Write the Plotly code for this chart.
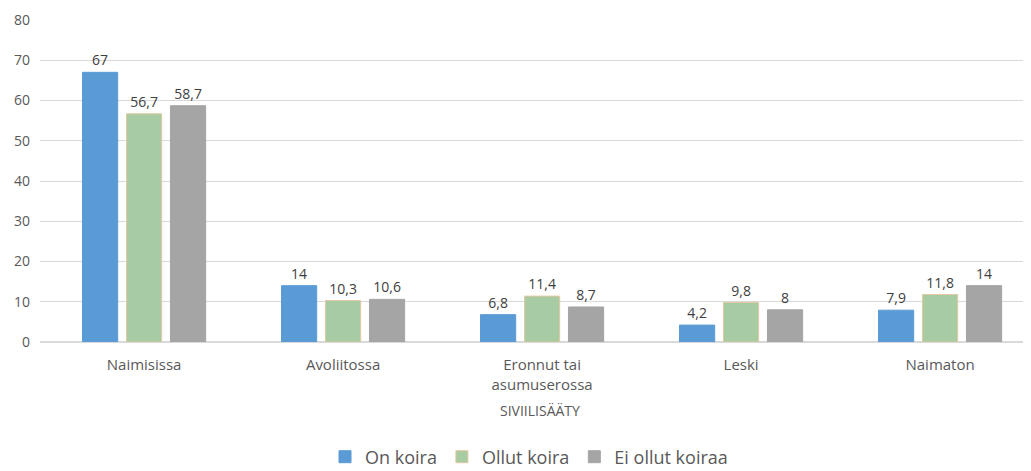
import plotly.graph_objects as go

categories = ["Naimisissa", "Avoliitossa", "Eronnut tai<br>asumuserossa", "Leski", "Naimaton"]
on_koira = [67, 14, 6.8, 4.2, 7.9]
ollut_koira = [56.7, 10.3, 11.4, 9.8, 11.8]
ei_ollut = [58.7, 10.6, 8.7, 8, 14]
series_names = ["On koira", "Ollut koira", "Ei ollut koiraa"]
colors = ["#5B9BD5", "#A7CBA2", "#A5A5A5"]
line_colors = ["#5B9BD5", "#E2C9A0", "#A5A5A5"]

def fmt(v):
    return ("%g" % v).replace(".", ",")

fig = go.Figure()
for name, vals, c, lc in zip(series_names, [on_koira, ollut_koira, ei_ollut], colors, line_colors):
    fig.add_trace(go.Bar(
        x=categories, y=vals, name=name,
        marker=dict(color=c, line=dict(color=lc, width=1)),
        text=[fmt(v) for v in vals], textposition="outside",
        textfont=dict(color="#404040", size=14, family="Open Sans"),
        cliponaxis=False,
    ))

W, H = 1031, 471
L, T, B = 32, 12, 137
plot_w = W - L
plot_h = H - T - B

fig.update_layout(
    width=W, height=H,
    margin=dict(l=L, r=0, t=T, b=B, autoexpand=False),
    paper_bgcolor="white", plot_bgcolor="white",
    barmode="group", bargap=0.337, bargroupgap=0.2,
    font=dict(family="Open Sans", color="#595959", size=14),
    showlegend=True,
    legend=dict(orientation="h", x=521 / W, xanchor="center", xref="container",
                y=(H - 449) / H, yanchor="middle", yref="container",
                font=dict(size=18, color="#595959"), itemwidth=30, traceorder="normal"),
    xaxis=dict(showgrid=False, showline=True, linecolor="#D9D9D9", ticks="",
               range=[-0.523, -0.523 + plot_w / 199], automargin=False,
               tickfont=dict(size=15, color="#595959"), ticklabelstandoff=9),
    yaxis=dict(range=[0, 80], dtick=10, showgrid=True, gridcolor="#D9D9D9",
               zeroline=True, zerolinecolor="#D9D9D9", ticks="", automargin=False,
               tickfont=dict(size=14, color="#595959"), ticklabelstandoff=9),
    annotations=[dict(text="SIVIILISÄÄTY", x=(532 - L) / plot_w, xref="paper",
                      y=-68 / plot_h, yref="paper",
                      yanchor="middle", showarrow=False, font=dict(size=14, color="#595959"))],
)

fig.write_html("out.html")
